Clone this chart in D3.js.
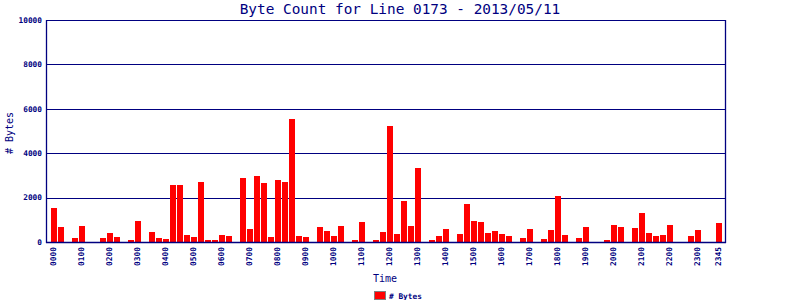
<!DOCTYPE html>
<html><head><meta charset="utf-8">
<script src="https://cdn.jsdelivr.net/npm/d3@7"></script>
<style>body{margin:0;background:#fff}svg{display:block}</style>
</head><body>
<svg id="c" width="800" height="300"></svg>
<script>
const times = ["0000","0015","0030","0045","0100","0115","0130","0145","0200","0215","0230","0245",
"0300","0315","0330","0345","0400","0415","0430","0445","0500","0515","0530","0545",
"0600","0615","0630","0645","0700","0715","0730","0745","0800","0815","0830","0845",
"0900","0915","0930","0945","1000","1015","1030","1045","1100","1115","1130","1145",
"1200","1215","1230","1245","1300","1315","1330","1345","1400","1415","1430","1445",
"1500","1515","1530","1545","1600","1615","1630","1645","1700","1715","1730","1745",
"1800","1815","1830","1845","1900","1915","1930","1945","2000","2015","2030","2045",
"2100","2115","2130","2145","2200","2215","2230","2245","2300","2315","2330","2345"];
const bytes = [1550,690,0,195,735,0,0,195,420,240,0,105,
960,0,465,195,150,2580,2580,330,240,2710,105,105,
330,285,0,2890,600,2980,2670,240,2800,2710,5545,285,
240,0,690,510,285,735,0,105,915,0,105,465,
5230,375,1860,735,3340,0,105,285,600,0,375,1725,
960,915,420,510,375,285,0,195,600,0,150,555,
2080,330,0,195,690,0,0,105,780,690,0,645,
1320,420,285,330,780,0,0,285,555,0,0,870];
const tickLabels = ["0000","0100","0200","0300","0400","0500","0600","0700","0800","0900","1000","1100",
"1200","1300","1400","1500","1600","1700","1800","1900","2000","2100","2200","2300","2345"];
const yTicks = [0,2000,4000,6000,8000,10000];
const title = "Byte Count for Line 0173 - 2013/05/11";
const seriesName = "# Bytes";

const navy = "#000080";
const svg = d3.select("#c");
const L = 46, R = 725, T = 20, B = 242;
const x = d3.scaleBand().domain(times).range([51, 722]).paddingInner(1/7).paddingOuter(0);
const y = d3.scaleLinear().domain([0, 10000]).range([B, T]);

svg.append("text").attr("x", 400).attr("y", 14).attr("text-anchor", "middle")
  .attr("font-family", "DejaVu Sans Mono").attr("font-size", 14.4).attr("fill", navy).text(title);

// grid lines
svg.append("g").selectAll("line").data(yTicks.filter(d => d > 0)).join("line")
  .attr("x1", L).attr("x2", R).attr("y1", d => Math.round(y(d)) + 0.5).attr("y2", d => Math.round(y(d)) + 0.5)
  .attr("stroke", navy).attr("stroke-width", 1.2);

// bars
svg.append("g").selectAll("rect").data(bytes.map((v, i) => ({t: times[i], v}))).join("rect")
  .attr("x", d => x(d.t)).attr("width", x.bandwidth())
  .attr("y", d => y(d.v)).attr("height", d => B - y(d.v))
  .attr("fill", "#ff0000").attr("shape-rendering", "crispEdges");

// frame
svg.append("line").attr("x1", L + 0.5).attr("x2", L + 0.5).attr("y1", T).attr("y2", B + 1).attr("stroke", navy).attr("stroke-width", 1.3);
svg.append("line").attr("x1", R + 0.5).attr("x2", R + 0.5).attr("y1", T).attr("y2", B + 1).attr("stroke", navy).attr("stroke-width", 1.3);
svg.append("line").attr("x1", L).attr("x2", R + 1).attr("y1", B + 0.5).attr("y2", B + 0.5).attr("stroke", navy).attr("stroke-width", 1.5);

// y tick labels
svg.append("g").selectAll("text").data(yTicks).join("text")
  .attr("x", 42).attr("y", d => y(d)).attr("dy", "0.35em").attr("text-anchor", "end")
  .attr("font-family", "DejaVu Sans Mono").attr("font-weight", "bold").attr("font-size", 7.8)
  .attr("fill", navy).text(d => d);

// x tick labels
svg.append("g").selectAll("text").data(tickLabels).join("text")
  .attr("transform", d => `translate(${x(d) + x.bandwidth() / 2 - 1},247) rotate(-90)`)
  .attr("dy", "0.35em").attr("text-anchor", "end")
  .attr("font-family", "DejaVu Sans Mono").attr("font-weight", "bold").attr("font-size", 7.9)
  .attr("fill", navy).text(d => d);

// axis titles
svg.append("text").attr("transform", "translate(9,133) rotate(-90)").attr("dy", "0.35em").attr("text-anchor", "middle")
  .attr("font-family", "DejaVu Sans Mono").attr("font-size", 10).attr("fill", navy).text(seriesName);
svg.append("text").attr("x", 385).attr("y", 282).attr("text-anchor", "middle")
  .attr("font-family", "DejaVu Sans Mono").attr("font-size", 10).attr("fill", navy).text("Time");

// legend
svg.append("rect").attr("x", 374.5).attr("y", 291.5).attr("width", 11).attr("height", 8)
  .attr("fill", "#ff0000").attr("stroke", "#808080").attr("stroke-width", 1);
svg.append("text").attr("x", 389).attr("y", 298.5)
  .attr("font-family", "DejaVu Sans Mono").attr("font-weight", "bold").attr("font-size", 7.8)
  .attr("fill", navy).text(seriesName);
</script>
</body></html>
